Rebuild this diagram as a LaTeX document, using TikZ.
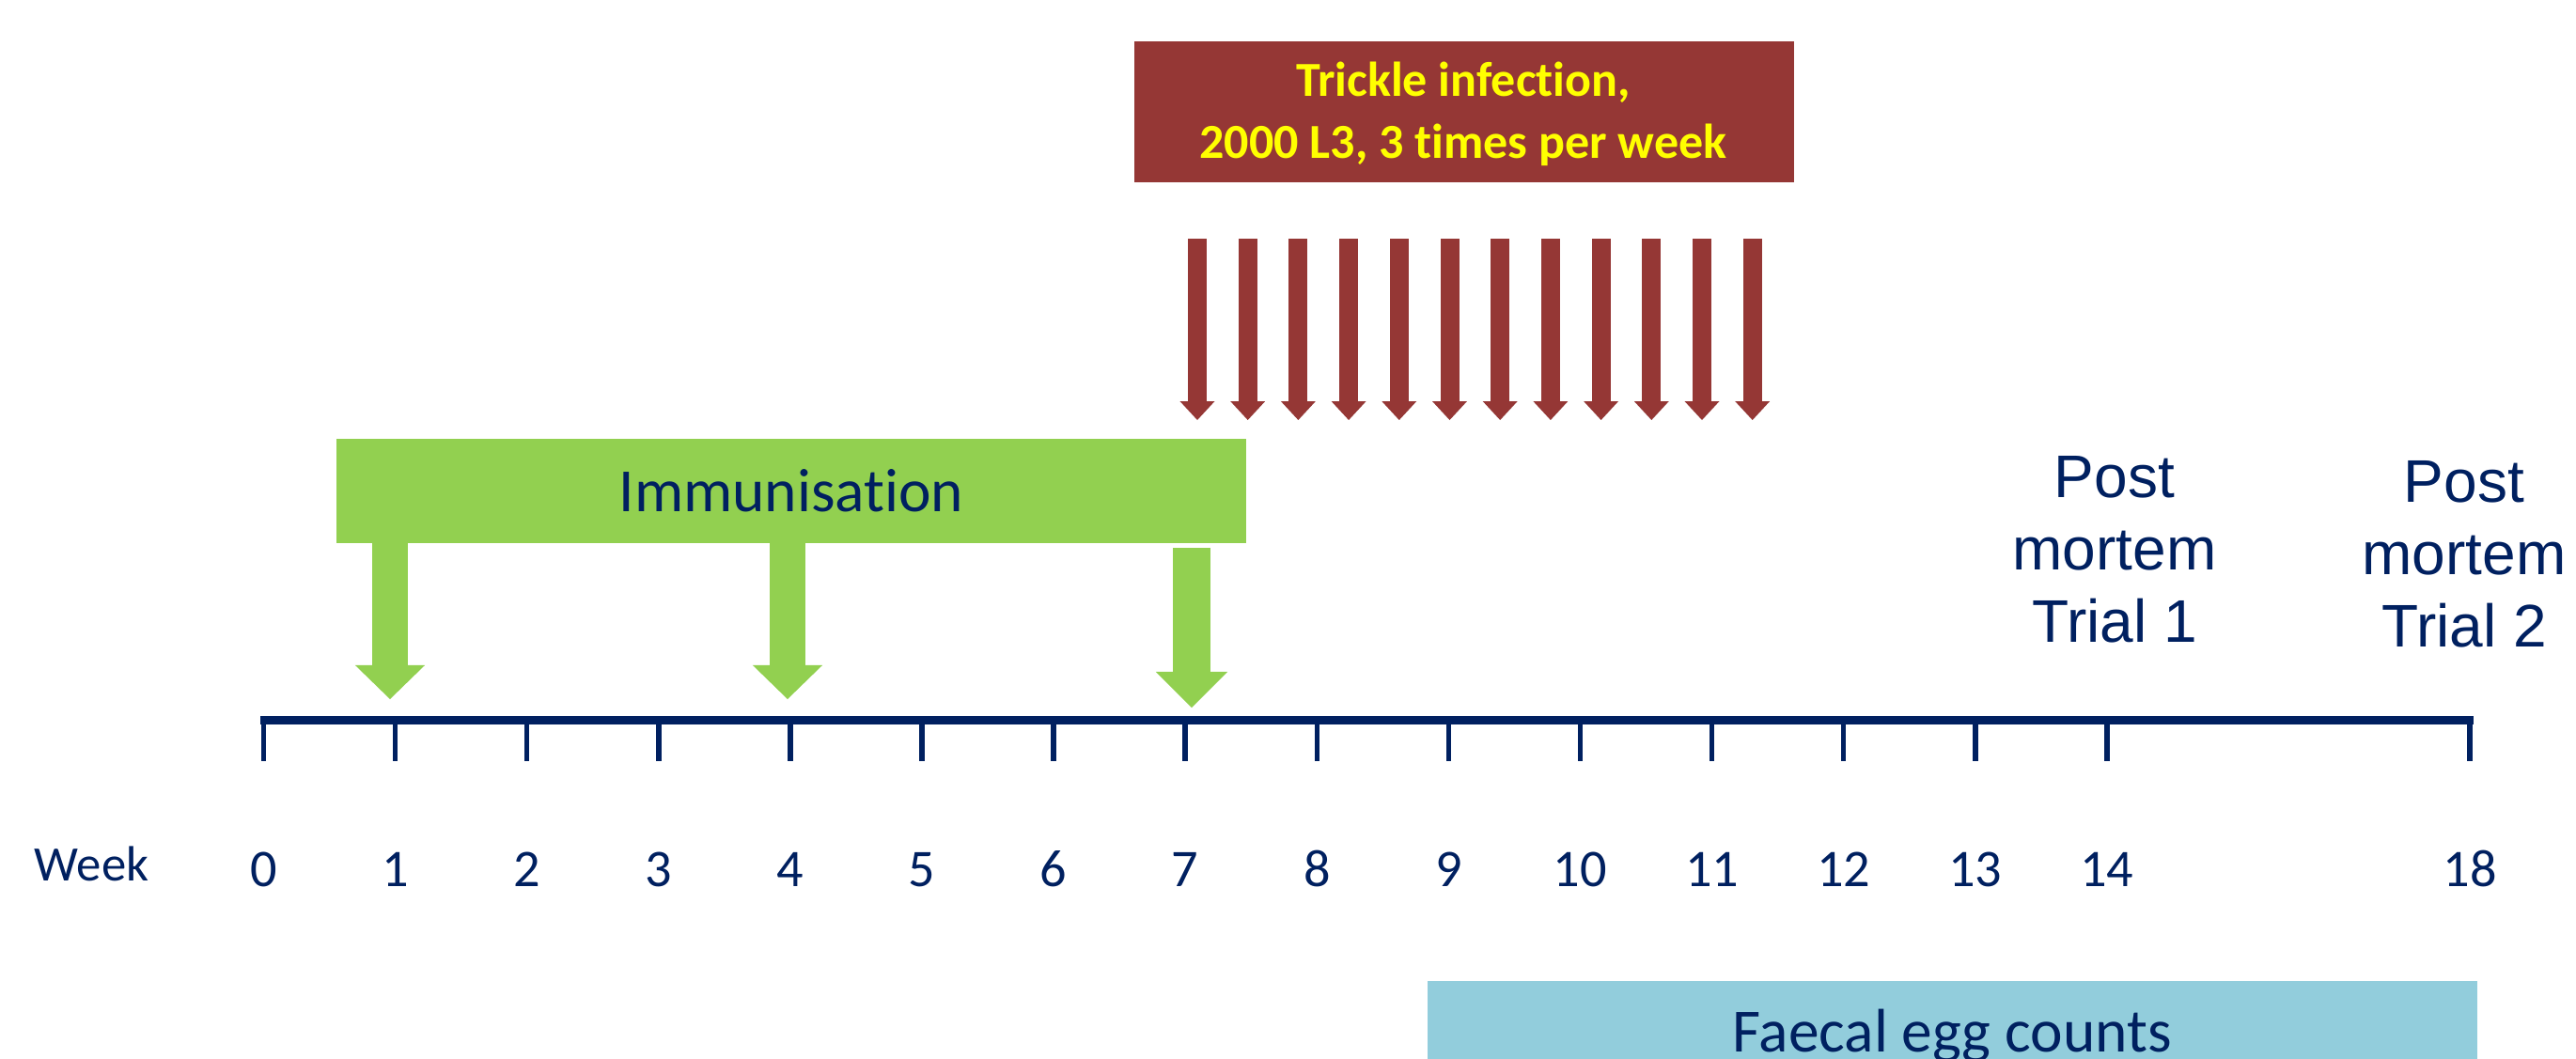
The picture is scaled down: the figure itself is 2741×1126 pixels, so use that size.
\documentclass[tikz,border=0pt]{standalone}
\usepackage{fontspec}
\setmainfont{Carlito}[Ligatures=NoCommon]
\newfontfamily\arialf{Liberation Sans}
\usetikzlibrary{arrows.meta}
\definecolor{navy}{HTML}{002060}
\definecolor{brick}{HTML}{953735}
\definecolor{leaf}{HTML}{92D050}
\definecolor{aqua}{HTML}{92CDDC}
\definecolor{yel}{HTML}{FFFF00}
\begin{document}
\begin{tikzpicture}[x=0.01cm,y=-0.01cm,
  box/.style={rectangle, inner sep=0pt, outer sep=0pt, draw=none, anchor=north west},
  lbl/.style={anchor=base, inner sep=0pt, text=navy, font=\fontsize{16}{19}\selectfont},
  bigtxt/.style={anchor=base, inner sep=0pt, text=navy, font=\fontsize{18.6}{22}\selectfont},
  pmtxt/.style={anchor=base, inner sep=0pt, text=navy, align=center, font=\arialf\fontsize{18.2}{21.8}\selectfont},
  rarrow/.style={brick, line width=0.2cm, -{Triangle[width=0.37cm,length=0.2cm,line width=0pt]}},
  garrow/.style={leaf, line width=0.38cm, -{Triangle[width=0.74cm,length=0.36cm,line width=0pt]}},
  garrowb/.style={leaf, line width=0.40cm, -{Triangle[width=0.76cm,length=0.38cm,line width=0pt]}},
  axisline/.style={navy, line width=0.09cm},
  tickline/.style={navy, line width=0.055cm}]
\useasboundingbox (0,0) rectangle (2741,1126);
\fill[white] (0,0) rectangle (2741,1126);

% Trickle infection box
\node[box, fill=brick, minimum width=7.02cm, minimum height=1.5cm] (trk) at (1207,44) {};
\node[anchor=base, inner sep=0pt, text=yel, align=center,
      font=\fontsize{14.8}{18.5}\selectfont\bfseries] (trktxt) at (1557,168)
      {Trickle infection,\\2000 L3, 3 times per week};

% red arrows
\foreach \i in {0,...,11} {
  \coordinate (rt\i) at ({1274+53.7*\i},254);
  \coordinate (rb\i) at ({1274+53.7*\i},447);
  \draw[rarrow] (rt\i) -- (rb\i);
}

% Immunisation box
\node[box, fill=leaf, minimum width=9.67cm, minimum height=1.11cm] (imm) at (358,467) {};
\node[bigtxt] (immtxt) at (842,544) {Immunisation};
\coordinate (g1) at (415,744);
\coordinate (g2) at (838,744);
\coordinate (g3s) at (1268,583);
\coordinate (g3) at (1268,753);
\draw[garrow] (g1 |- imm.south) -- (g1);
\draw[garrow] (g2 |- imm.south) -- (g2);
\draw[garrowb] (g3s) -- (g3);

% axis
\draw[axisline] (277,766.5) -- (2632,766.5);
\foreach \w in {0,...,14} {
  \draw[tickline] ({280.5+140.1*\w},766) -- ++(0,44);
  \node[lbl] (n\w) at ({280.5+140.1*\w},943) {\w};
}
\draw[tickline] (2628,766) -- ++(0,44);
\node[lbl] (n18) at (2628,943) {18};
\node[anchor=base west, inner sep=0pt, text=navy, font=\fontsize{15}{18}\selectfont] (week) at (36,937) {Week};

% post mortem
\node[pmtxt] (pm1) at (2250,683) {Post\\mortem\\Trial 1};
\node[pmtxt] (pm2) at (2622,688) {Post\\mortem\\Trial 2};

% faecal egg counts
\node[box, fill=aqua, minimum width=11.16cm, minimum height=1.0cm] (fec) at (1519,1044) {};
\node[bigtxt] (fectxt) at (2077,1119) {Faecal egg counts};
\end{tikzpicture}
\end{document}
